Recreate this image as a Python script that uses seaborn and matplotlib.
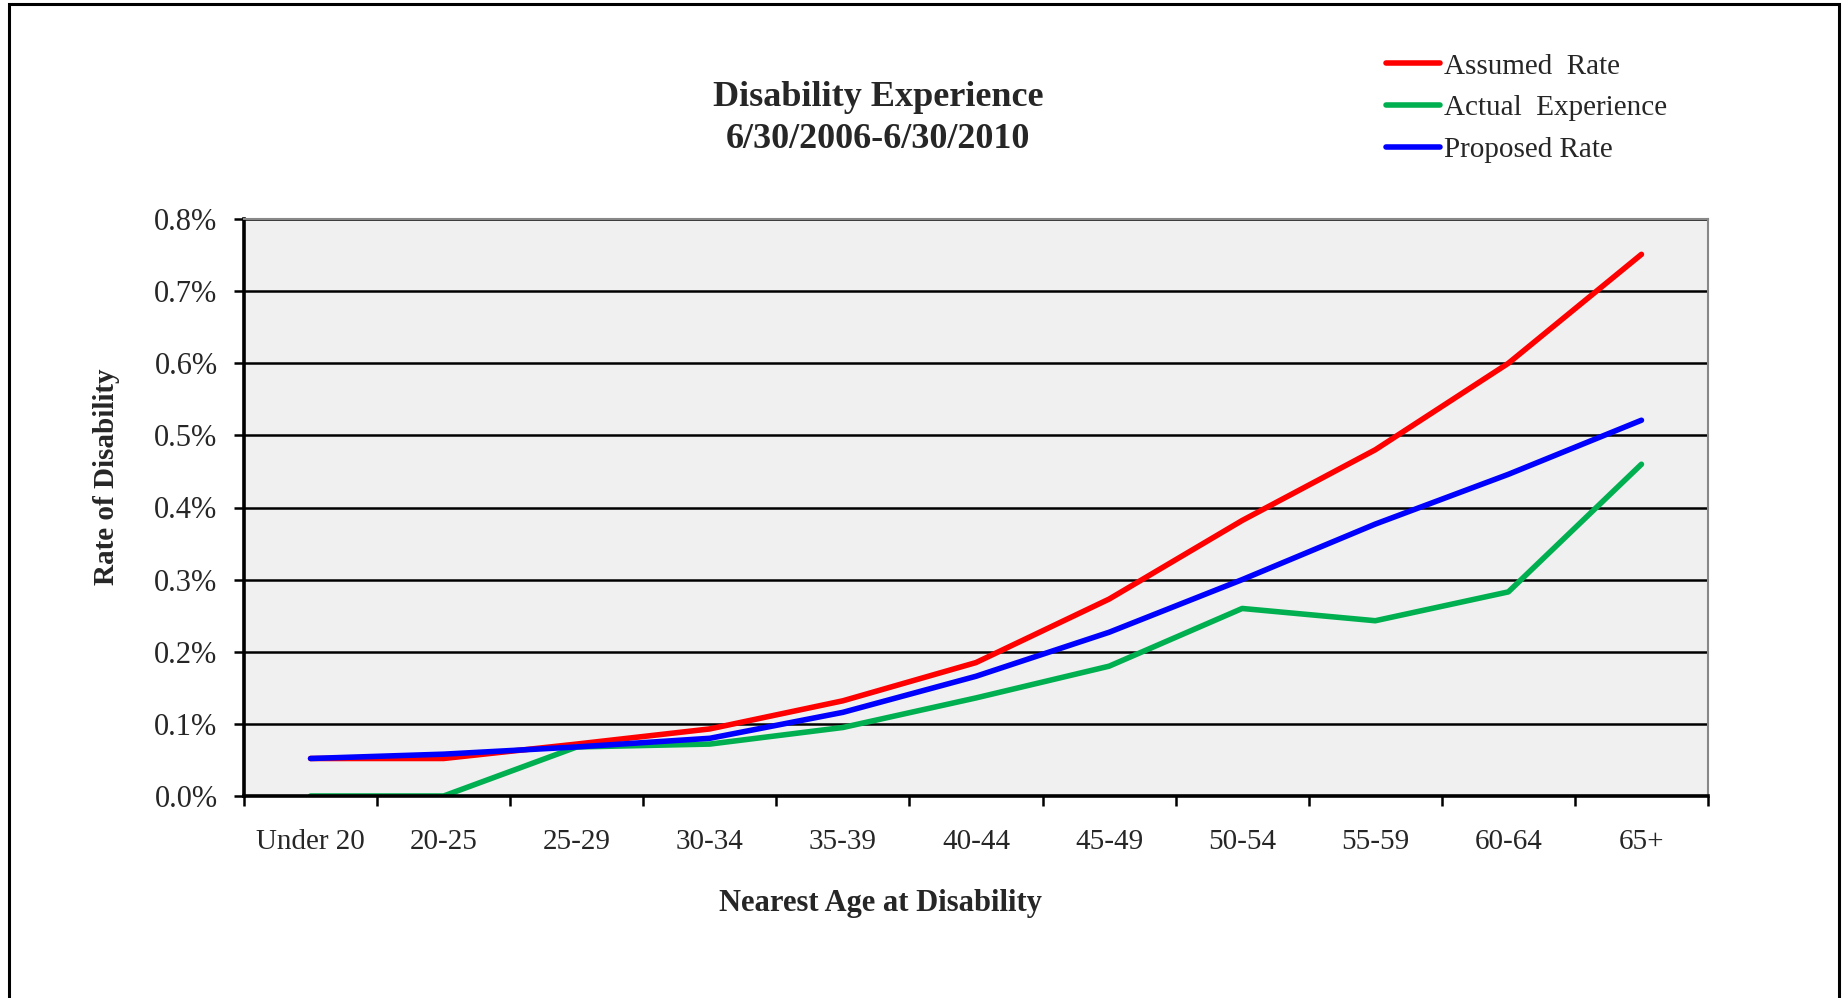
import matplotlib
matplotlib.use("Agg")
import matplotlib.pyplot as plt
import matplotlib.patches as mpatches
from matplotlib.ticker import FixedLocator, PercentFormatter
import pandas as pd
import seaborn as sns

age_groups = ["Under 20", "20-25", "25-29", "30-34", "35-39", "40-44",
              "45-49", "50-54", "55-59", "60-64", "65+"]
assumed_rate = [0.052, 0.052, 0.072, 0.093, 0.132, 0.185, 0.273, 0.382, 0.480, 0.600, 0.751]
actual_experience = [0.0, 0.0, 0.068, 0.072, 0.095, 0.136, 0.180, 0.260, 0.243, 0.283, 0.460]
proposed_rate = [0.052, 0.058, 0.068, 0.080, 0.116, 0.166, 0.227, 0.300, 0.377, 0.446, 0.521]
series_names = ["Assumed  Rate", "Actual  Experience", "Proposed Rate"]
series_colors = ["#ff0000", "#00b050", "#0000ff"]

frames = []
for name, vals in zip(series_names, [assumed_rate, actual_experience, proposed_rate]):
    frames.append(pd.DataFrame({"pos": range(len(age_groups)), "rate": vals, "series": name}))
df = pd.concat(frames, ignore_index=True)

sns.set_theme(style="white")
plt.rcParams["font.family"] = ["Liberation Serif", "DejaVu Serif"]

W, H = 1847, 998
fig = plt.figure(figsize=(W / 100, H / 100), dpi=100)
ax = fig.add_axes([244 / W, 1 - 796 / H, (1708 - 244) / W, (796 - 219) / H])
ax.set_facecolor("#f0f0f0")

sns.lineplot(data=df, x="pos", y="rate", hue="series", hue_order=series_names,
             palette=series_colors, linewidth=4.0, ax=ax, legend=False,
             solid_capstyle="round")

ax.set_xlim(-0.5, len(age_groups) - 0.5)
ax.set_ylim(0, 0.8)
ax.yaxis.set_major_locator(FixedLocator([i / 10 for i in range(9)]))
ax.yaxis.set_major_formatter(PercentFormatter(decimals=1))
ax.grid(axis="y", color="black", linewidth=1.8)
ax.set_axisbelow(True)

ax.set_xticks(range(len(age_groups)))
ax.set_xticklabels(age_groups)
ax.set_xticks([i - 0.5 for i in range(len(age_groups) + 1)], minor=True)
ax.tick_params(axis="x", which="major", length=0, pad=24, labelsize=21)
ax.tick_params(axis="x", which="minor", length=7, width=1.8, color="black", direction="out", bottom=True)
ax.tick_params(axis="y", which="major", length=7, width=1.8, color="black", direction="out",
               left=True, pad=12, labelsize=22)

for side in ["left", "bottom"]:
    ax.spines[side].set_color("black")
    ax.spines[side].set_linewidth(2.6)
for side in ["top", "right"]:
    ax.spines[side].set_color("#888888")
    ax.spines[side].set_linewidth(1.5)
ax.set_xlabel("")
ax.set_ylabel("")

fig.text(878 / W, 1 - 98 / H, "Disability Experience", ha="center", va="center",
         fontsize=26, fontweight="bold")
fig.text(878 / W, 1 - 139 / H, "6/30/2006-6/30/2010", ha="center", va="center",
         fontsize=26, fontweight="bold")
fig.text(880 / W, 1 - 903 / H, "Nearest Age at Disability", ha="center", va="center",
         fontsize=22, fontweight="bold")
fig.text(106 / W, 1 - 477 / H, "Rate of Disability", ha="center", va="center",
         rotation=90, fontsize=21, fontweight="bold")

handles = [plt.Line2D([], [], color=c, linewidth=4.0) for c in series_colors]
fig.legend(handles, series_names, loc="center left", bbox_to_anchor=(1374 / W, 1 - 108 / H),
           frameon=False, fontsize=21, handlelength=1.85, handletextpad=0.15,
           labelspacing=0.52, borderaxespad=0)

fig.patches.append(mpatches.Rectangle((9 / W, -0.05), (1839 - 9) / W, 1.05 - 4 / H,
                                      transform=fig.transFigure, fill=False,
                                      edgecolor="black", linewidth=2.2))

fig.savefig("out.png", dpi=100, facecolor="white")
